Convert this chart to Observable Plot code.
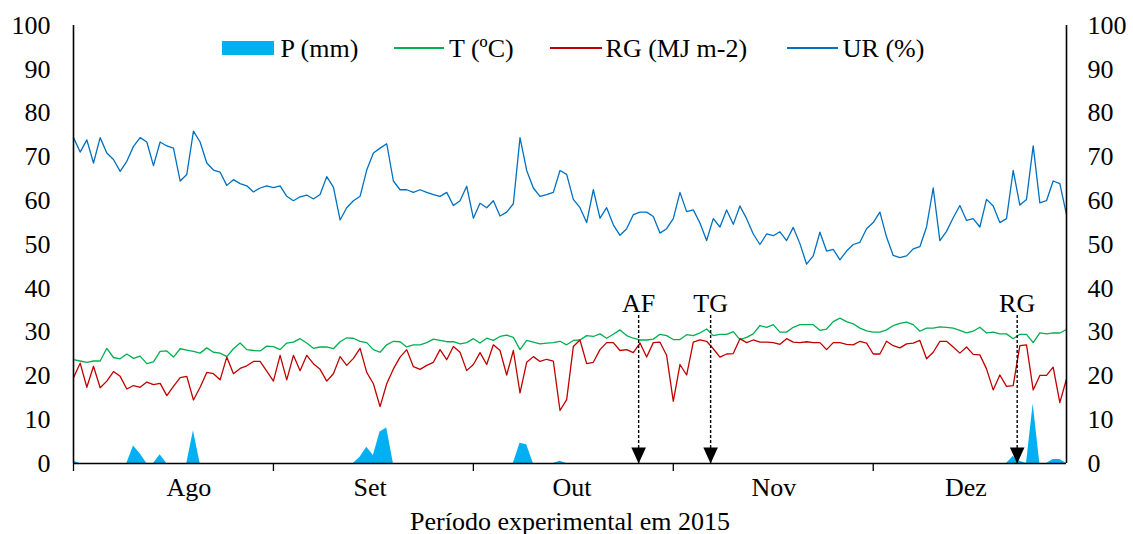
<!DOCTYPE html>
<html><head><meta charset="utf-8">
<script src="https://cdn.jsdelivr.net/npm/d3@7"></script>
<script src="https://cdn.jsdelivr.net/npm/@observablehq/plot@0.6"></script>
<style>
html,body{margin:0;padding:0;background:#fff;}
#wrap{position:relative;width:1133px;height:534px;font-family:"Liberation Serif","Times New Roman",serif;color:#000;}
.leg{position:absolute;font-size:26px;line-height:1;white-space:nowrap;}
.sw{position:absolute;}
</style></head><body><div id="wrap"></div>
<script>
// Daily series, 1 Aug 2015 onward (150 days)
const P = [0.5,0,0,0,0,0,0,0,0,4.0, 2.2,0,0,2.0,0,0,0,0,7.5,0, 0,0,0,0,0,0,0,0,0,0,
  0,0,0,0,0,0,0,0,0,0, 0,0,0,1.4,3.7,1.8,7.2,8.1,0,0, 0,0,0,0,0,0,0,0,0,0,
  0,0,0,0,0,0,0,4.6,4.3,0, 0,0,0,0.5,0,0,0,0,0,0, 0,0,0,0,0,0,0,0,0,0,
  0,0,0,0,0,0,0,0,0,0, 0,0,0,0,0,0,0,0,0,0, 0,0,0,0,0,0,0,0,0,0,
  0,0,0,0,0,0,0,0,0,0, 0,0,0,0,0,0,0,0,0,0, 0,1.6,0.5,0,13.6,0,0,0.9,0.9,0];
const T = [23.7,23.4,23.1,23.4,23.4,26.3,24.2,23.9,25.0,24.0,
  24.5,22.8,23.2,25.6,25.7,24.3,26.2,25.9,25.6,25.2,
  26.4,25.4,25.2,24.4,26.2,27.5,26.0,25.8,25.7,26.8,
  26.7,26.0,27.5,27.7,28.5,27.5,26.3,26.6,26.6,26.2,
  27.8,28.7,28.6,27.9,27.6,26.0,25.4,27.1,27.9,27.8,
  26.6,27.1,27.1,27.6,28.4,28.1,27.8,27.8,27.3,27.6,
  28.5,27.5,28.6,28.1,29.0,29.3,28.8,26.0,28.1,27.7,
  27.3,27.5,27.6,27.9,27.1,28.1,28.2,29.2,29.0,29.6,
  28.6,29.5,30.5,29.2,28.6,28.2,28.2,28.4,29.5,29.2,
  28.3,28.3,29.4,29.2,29.8,30.7,29.2,29.5,29.5,30.1,
  28.3,28.8,29.6,31.5,31.1,31.7,30.0,30.0,31.1,31.7,
  31.7,31.7,30.4,30.7,32.4,33.2,32.4,31.9,30.9,30.3,
  30.0,30.0,30.5,31.5,32.0,32.3,31.7,30.2,30.9,30.9,
  31.2,31.1,30.9,30.4,29.8,30.2,31.1,29.8,30.0,29.6,
  29.6,28.5,29.5,29.5,27.6,29.8,29.6,29.8,29.8,30.6];
const RG = [19.6,22.9,17.4,22.2,17.3,18.8,21.0,19.9,17.0,17.8,
  17.4,18.6,18.0,18.3,15.5,17.6,19.6,19.9,14.5,17.4,
  20.8,20.5,19.1,24.3,20.5,21.7,22.3,23.3,23.3,21.1,
  18.8,24.7,19.1,24.7,21.2,24.7,22.8,21.5,18.8,20.5,
  24.4,22.4,24.0,26.3,20.8,18.2,13.0,18.2,21.6,24.3,
  26.0,22.1,21.5,22.4,23.1,26.0,23.7,26.7,25.4,21.2,
  22.6,25.3,22.6,27.1,25.8,20.2,25.8,16.1,23.1,24.4,
  23.3,23.8,23.4,12.1,14.6,26.7,28.2,22.8,23.1,26.0,
  27.6,27.6,25.8,26.0,25.3,27.5,24.3,27.6,27.7,24.7,
  14.2,22.6,20.2,27.7,28.2,27.9,26.2,24.3,25.0,25.1,
  28.5,27.6,28.2,27.7,27.7,27.6,27.2,28.5,27.7,27.6,
  27.8,27.6,27.6,26.0,27.6,27.6,27.2,27.1,27.9,27.5,
  25.0,25.0,27.9,26.9,26.4,27.3,27.5,28.1,23.9,25.4,
  27.9,27.9,26.6,25.2,26.6,24.9,24.8,21.6,16.8,20.2,
  17.6,17.8,26.9,27.1,16.8,20.1,20.1,22.0,13.9,19.3];
const UR = [74.4,71.1,73.9,68.6,74.4,70.9,69.4,66.7,69.0,72.4,
  74.4,73.4,68.0,73.4,72.5,72.0,64.5,66.0,75.9,73.4,
  68.6,67.0,66.5,63.5,64.8,63.9,63.4,62.0,62.9,63.4,
  63.0,63.4,61.0,60.0,60.9,61.3,60.4,61.4,65.5,63.1,
  55.6,58.4,60.0,61.0,67.0,70.9,72.0,73.0,64.5,62.5,
  62.5,61.9,62.5,61.9,61.4,61.0,61.9,58.9,60.0,63.3,
  56.0,59.4,58.4,60.0,56.5,57.4,59.3,74.4,66.9,62.9,
  61.0,61.4,61.9,66.9,66.0,60.3,58.4,55.0,62.5,56.0,
  58.4,54.5,52.1,53.6,56.8,57.4,57.4,56.4,52.6,53.6,
  55.9,61.9,57.5,57.9,54.9,50.9,55.9,54.0,57.9,54.6,
  58.8,55.9,52.4,50.0,52.4,52.0,52.9,50.9,53.9,50.2,
  45.5,47.4,52.8,48.5,48.9,46.5,48.5,50.0,50.5,53.6,
  55.0,57.4,51.7,47.5,47.0,47.4,49.0,49.5,54.0,62.9,
  50.9,53.0,56.1,58.9,55.5,55.9,54.0,60.3,58.8,55.0,
  55.9,66.9,59.0,60.3,72.5,59.5,60.0,64.5,63.9,56.8];

const yTicks = [0,10,20,30,40,50,60,70,80,90,100];
const tickDays = [0,30,60,90,120];
const monthNames = ["Ago","Set","Out","Nov","Dez"];
const monthLabelDay = [17.3,44.5,74.8,105.1,133.9];
const eventNames = ["AF","TG","RG"];
const eventDay = [84.8,95.6,141.6];
const eventTop = 33.8;
const xTitle = "Período experimental em 2015";
const legendLabels = ["P (mm)","T (ºC)","RG (MJ m-2)","UR (%)"];
const colors = {P:"#00B0F0", T:"#00B050", RG:"#C00000", UR:"#0070C0"};

const rows = UR.map((_, i) => ({d: i, P: P[i], T: T[i], RG: RG[i], UR: UR[i]}));
const evt = eventNames.map((n, i) => ({name: n, d: eventDay[i]}));
const monthAt = new Map(monthLabelDay.map((d, i) => [d, monthNames[i]]));
const head = {draw(ctx) { ctx.moveTo(-7.3, -16); ctx.lineTo(7.3, -16); ctx.lineTo(0, 0); ctx.closePath(); }};
const font = '"Liberation Serif","Times New Roman",serif';

const plot = Plot.plot({
  width: 1133, height: 534,
  marginLeft: 73, marginRight: 67, marginTop: 25, marginBottom: 71,
  style: {fontFamily: font, fontSize: "26px", color: "#000", background: "#fff", overflow: "visible"},
  x: {domain: [0, UR.length - 1], axis: null, label: null},
  y: {domain: [0, 100], axis: null, label: null},
  marks: [
    Plot.areaY(rows, {x: "d", y: "P", fill: colors.P}),
    Plot.lineY(rows, {x: "d", y: "T", stroke: colors.T, strokeWidth: 1.3}),
    Plot.lineY(rows, {x: "d", y: "RG", stroke: colors.RG, strokeWidth: 1.3}),
    Plot.lineY(rows, {x: "d", y: "UR", stroke: colors.UR, strokeWidth: 1.3}),
    Plot.ruleX(evt, {x: "d", y1: eventTop, y2: 0, stroke: "#000", strokeWidth: 1.4, strokeDasharray: "3,2"}),
    Plot.dot(evt, {x: "d", y: 0, symbol: head, fill: "#000"}),
    Plot.text(evt, {x: "d", y: eventTop + 0.8, text: "name", lineAnchor: "bottom", fontSize: 26}),
    Plot.ruleX([0, UR.length - 1], {stroke: "#000", strokeWidth: 1.6}),
    Plot.ruleY([0], {stroke: "#000", strokeWidth: 1.6}),
    Plot.axisX(tickDays, {tickSize: 8, tickFormat: () => "", label: null, strokeWidth: 1.3}),
    Plot.axisX(monthLabelDay, {tickSize: 0, tickPadding: 14.5, tickFormat: d => monthAt.get(d), label: null, fontSize: 26}),
    Plot.axisY(yTicks, {anchor: "left", tickSize: 0, tickPadding: 23, label: null, fontSize: 26}),
    Plot.axisY(yTicks, {anchor: "right", tickSize: 0, tickPadding: 21, label: null, fontSize: 26}),
    Plot.text([xTitle], {frameAnchor: "bottom", dy: 66.5, lineAnchor: "bottom", fontSize: 26})
  ]
});

const wrap = document.getElementById("wrap");
wrap.appendChild(plot);

// legend (HTML overlay)
function sw(left, top, w, h, bg) {
  const e = document.createElement("div"); e.className = "sw";
  Object.assign(e.style, {left: left + "px", top: top + "px", width: w + "px", height: h + "px", background: bg});
  wrap.appendChild(e);
}
function lab(left, text) {
  const e = document.createElement("div"); e.className = "leg";
  e.style.left = left + "px"; e.style.top = "35.5px"; e.textContent = text;
  wrap.appendChild(e);
}
sw(222, 41, 52, 14, colors.P); lab(280.6, legendLabels[0]);
sw(393.5, 47, 50.5, 1.5, colors.T); lab(449, legendLabels[1]);
sw(550, 47, 52, 1.5, colors.RG); lab(605.6, legendLabels[2]);
sw(787, 47, 51, 1.5, colors.UR); lab(842.8, legendLabels[3]);
</script></body></html>
